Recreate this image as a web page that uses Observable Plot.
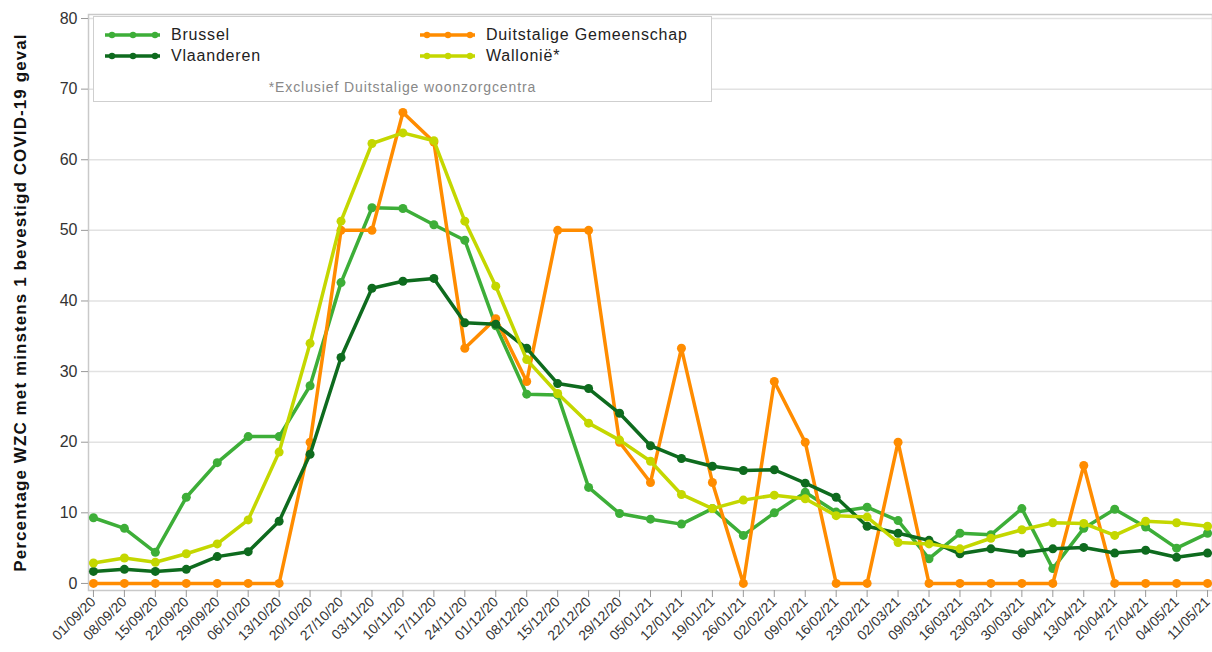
<!DOCTYPE html>
<html>
<head>
<meta charset="utf-8">
<script src="https://cdn.jsdelivr.net/npm/d3@7"></script>
<script src="https://cdn.jsdelivr.net/npm/@observablehq/plot@0.6"></script>
<style>
  html, body { margin: 0; padding: 0; background: #fff; }
  #wrap { position: relative; width: 1212px; height: 652px; overflow: hidden; font-family: "Liberation Sans", Arial, sans-serif; }
  #legend { position: absolute; left: 93px; top: 16px; width: 619px; height: 86px; border: 1px solid #cfcfcf; background: #fff; box-sizing: border-box; }
  .item { position: absolute; display: flex; align-items: center; font-size: 16px; color: #222; letter-spacing: 0.8px; }
  .item svg { margin-right: 10px; }
  #note { position: absolute; left: 0; right: 0; top: 62px; text-align: center; font-size: 14px; color: #888; letter-spacing: 0.9px; }
</style>
</head>
<body>
<div id="wrap">
  <div id="chart"></div>
  <div id="legend"></div>
</div>
<script>
const dates = ["01/09/20","08/09/20","15/09/20","22/09/20","29/09/20","06/10/20","13/10/20","20/10/20","27/10/20","03/11/20","10/11/20","17/11/20","24/11/20","01/12/20","08/12/20","15/12/20","22/12/20","29/12/20","05/01/21","12/01/21","19/01/21","26/01/21","02/02/21","09/02/21","16/02/21","23/02/21","02/03/21","09/03/21","16/03/21","23/03/21","30/03/21","06/04/21","13/04/21","20/04/21","27/04/21","04/05/21","11/05/21"];

const brussel = [9.3,7.8,4.4,12.2,17.1,20.8,20.8,28.0,42.6,53.2,53.1,50.8,48.6,36.5,26.8,26.7,13.6,9.9,9.1,8.4,10.6,6.8,10.0,12.9,10.1,10.8,8.9,3.5,7.1,6.9,10.6,2.1,7.8,10.5,8.0,5.0,7.1];
const duitstalig = [0,0,0,0,0,0,0,20.0,50.0,50.0,66.7,62.5,33.3,37.5,28.6,50.0,50.0,20.0,14.3,33.3,14.3,0,28.6,20.0,0,0,20.0,0,0,0,0,0,16.7,0,0,0,0];
const vlaanderen = [1.7,2.0,1.7,2.0,3.8,4.5,8.8,18.3,32.0,41.8,42.8,43.2,36.9,36.7,33.3,28.3,27.6,24.1,19.5,17.7,16.6,16.0,16.1,14.2,12.2,8.1,7.1,6.1,4.2,4.9,4.3,4.9,5.1,4.3,4.7,3.7,4.3];
const wallonie = [2.9,3.6,3.0,4.2,5.6,9.0,18.6,34.0,51.3,62.3,63.8,62.7,51.3,42.1,31.7,26.9,22.7,20.3,17.3,12.6,10.6,11.8,12.5,12.0,9.6,9.4,5.8,5.6,4.9,6.4,7.6,8.6,8.5,6.8,8.8,8.6,8.1];

const seriesNames = ["Brussel", "Duitstalige Gemeenschap", "Vlaanderen", "Wallonië*"];
const seriesColors = ["#3dae38", "#ff8c00", "#0e6b1e", "#c4d700"];
const yTicks = [0, 10, 20, 30, 40, 50, 60, 70, 80];
const yLabel = "Percentage WZC met minstens 1 bevestigd COVID-19 geval";
const footnote = "*Exclusief Duitstalige woonzorgcentra";

const seriesValues = [brussel, duitstalig, vlaanderen, wallonie];
const table = seriesNames.flatMap((name, i) =>
  dates.map((d, j) => ({series: name, date: d, value: seriesValues[i][j]}))
);

const seriesMarks = seriesNames.flatMap(name => {
  const rows = table.filter(r => r.series === name);
  return [
    Plot.line(rows, {x: "date", y: "value", stroke: "series", strokeWidth: 3.5, strokeLinejoin: "round"}),
    Plot.dot(rows, {x: "date", y: "value", fill: "series", r: 4.5, stroke: "none"})
  ];
});

const chart = Plot.plot({
  width: 1212,
  height: 652,
  marginLeft: 88,
  marginRight: 0,
  marginTop: 14,
  marginBottom: 62,
  style: {fontFamily: "'Liberation Sans', Arial, sans-serif", color: "#333", background: "#fff"},
  x: {type: "point", domain: dates, padding: 0.16},
  y: {domain: [-1, 80.57]},
  color: {domain: seriesNames, range: seriesColors},
  marks: [
    Plot.gridY(yTicks, {stroke: "#e2e2e2", strokeOpacity: 1, strokeWidth: 1.5}),
    Plot.frame({stroke: "#c9c9c9", strokeWidth: 1.5}),
    Plot.axisY(yTicks, {tickSize: 7, tickPadding: 4, fontSize: 16, stroke: "#999", fill: "#333", label: null}),
    Plot.axisX({tickRotate: -45, tickSize: 7, tickPadding: 2, fontSize: 14, stroke: "#999", fill: "#333", textAnchor: "end", label: null}),
    ...seriesMarks,
    Plot.text([yLabel], {frameAnchor: "left", dx: -68, rotate: -90, fontWeight: "bold", fontSize: 17, fill: "#111", textAnchor: "middle"})
  ]
});
document.getElementById("chart").appendChild(chart);
// widen the axis title spacing like the reference
d3.select(chart).selectAll("text").filter(function() { return this.textContent === yLabel; })
  .style("letter-spacing", "1.1px");

// Legend overlay
const legend = document.getElementById("legend");
const positions = [[10, 9], [325, 9], [10, 30], [325, 30]];
seriesNames.forEach((name, i) => {
  const el = document.createElement("div");
  el.className = "item";
  el.style.left = positions[i][0] + "px";
  el.style.top = positions[i][1] + "px";
  const c = seriesColors[i];
  el.innerHTML = `<svg width="57" height="10"><line x1="1" x2="56" y1="5" y2="5" stroke="${c}" stroke-width="3.5"/>` +
    `<circle cx="8" cy="5" r="3.2" fill="${c}"/><circle cx="29" cy="5" r="3.2" fill="${c}"/><circle cx="51" cy="5" r="3.2" fill="${c}"/></svg>` +
    `<span>${name}</span>`;
  legend.appendChild(el);
});
const note = document.createElement("div");
note.id = "note";
note.textContent = footnote;
legend.appendChild(note);
</script>
</body>
</html>
